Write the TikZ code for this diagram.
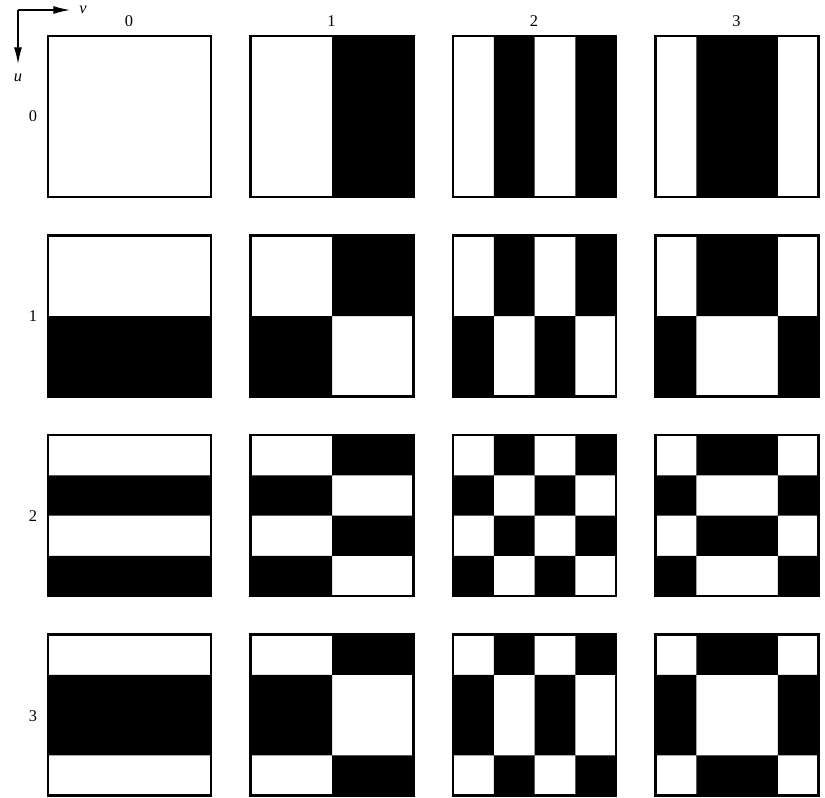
\documentclass[tikz,border=0pt]{standalone}
\usepackage{fontspec}
\setmainfont{Liberation Serif}
\usetikzlibrary{arrows.meta}
\begin{document}
\begin{tikzpicture}[x=0.3mm,y=-0.3mm,font=\fontsize{14}{16}\selectfont,
    cellbox/.style={line width=2.4pt},
    axis/.style={line width=1.1pt,-{Latex[length=5mm,width=2.4mm]}}]
  \useasboundingbox (0,0) rectangle (825,797);
  % axes
  \coordinate (origin) at (18,10);
  \coordinate (vtip) at (70,10);
  \coordinate (utip) at (18,64);
  \draw[axis] (origin) -- (vtip);
  \draw[axis] (origin) -- (utip);
  \node[inner sep=0pt] (vlab) at (83,10) {\textit{v}};
  \node[inner sep=0pt] (ulab) at (18,78) {\textit{u}};
  % labels
  \foreach \k in {0,...,3} {
    \node (col\k) at (129+202.5*\k,21) {\k};
    \node (row\k) at (33,116+200*\k) {\k};
  }
  % basis images
  \foreach \u/\su in {0/{0/0},1/{2/4},2/{1/2,3/4},3/{1/3}} {
    \foreach \v/\sv in {0/{0/0},1/{2/4},2/{1/2,3/4},3/{1/3}} {
      \pgfmathsetmacro\xa{48+202.5*\v}
      \pgfmathsetmacro\ya{36+199.5*\u}
      \fill[even odd rule]
        \foreach \a/\b in \sv {(\xa+40.75*\a,\ya) rectangle (\xa+40.75*\b,\ya+161)}
        \foreach \a/\b in \su {(\xa,\ya+40.25*\a) rectangle (\xa+163,\ya+40.25*\b)};
      \draw[cellbox] (\xa,\ya) rectangle ++(163,161);
    }
  }
\end{tikzpicture}
\end{document}
